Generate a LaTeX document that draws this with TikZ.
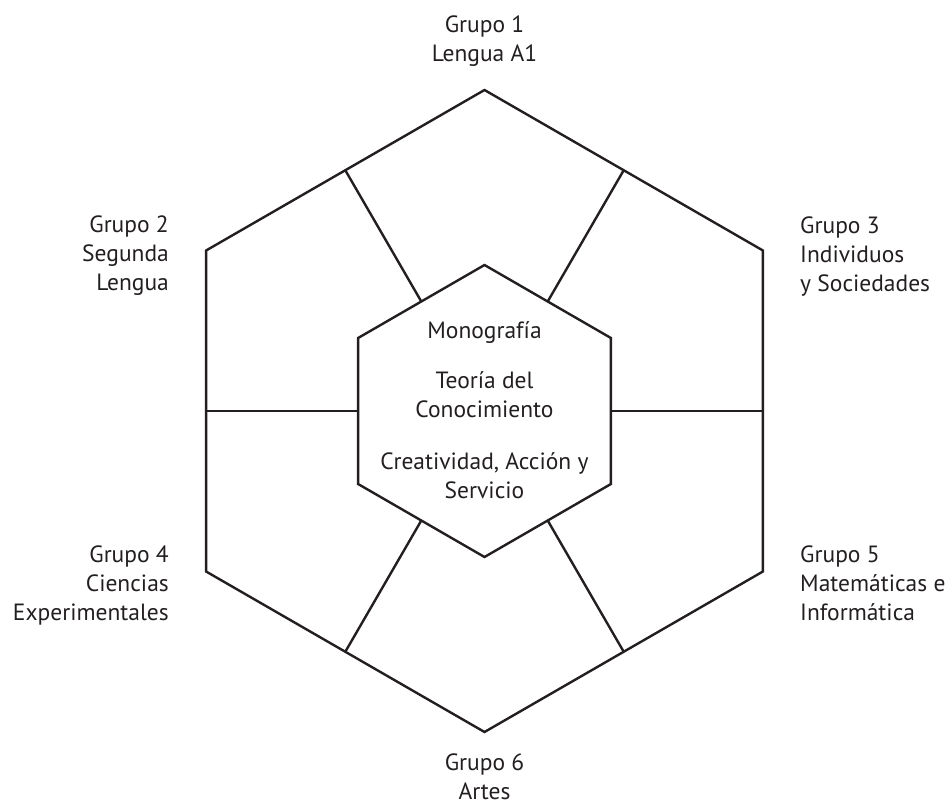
\documentclass[tikz,border=0pt]{standalone}
\usepackage{fontspec}
\setmainfont{PT Sans}
\usetikzlibrary{calc}
\definecolor{ink}{HTML}{231F20}
\begin{document}
\begin{tikzpicture}[x=1pt,y=-1pt,
  hexline/.style={draw=ink,line width=2.4pt,line join=miter},
  spoke/.style={draw=ink,line width=2.4pt},
  lbl/.style={text=ink,inner sep=0pt,font=\fontsize{23.5}{29}\selectfont},
]
\useasboundingbox (0,0) rectangle (952,805);
% outer hexagon vertices
\coordinate (o1) at (484.5,90);
\coordinate (o2) at (206.1,250.5);
\coordinate (o3) at (206.1,571.5);
\coordinate (o4) at (484.5,732);
\coordinate (o5) at (762.9,571.5);
\coordinate (o6) at (762.9,250.5);
% inner hexagon vertices
\coordinate (i1) at (484.5,265);
\coordinate (i2) at (358.1,338);
\coordinate (i3) at (358.1,484);
\coordinate (i4) at (484.5,557);
\coordinate (i5) at (610.9,484);
\coordinate (i6) at (610.9,338);
\draw[hexline] (o1) -- (o2) -- (o3) -- (o4) -- (o5) -- (o6) -- cycle;
\draw[hexline] (i1) -- (i2) -- (i3) -- (i4) -- (i5) -- (i6) -- cycle;
% spokes
\draw[spoke] ($(o1)!0.5!(o2)$) -- ($(i1)!0.5!(i2)$);
\draw[spoke] ($(o2)!0.5!(o3)$) -- ($(i2)!0.5!(i3)$);
\draw[spoke] ($(o3)!0.5!(o4)$) -- ($(i3)!0.5!(i4)$);
\draw[spoke] ($(o4)!0.5!(o5)$) -- ($(i4)!0.5!(i5)$);
\draw[spoke] ($(o5)!0.5!(o6)$) -- ($(i5)!0.5!(i6)$);
\draw[spoke] ($(o6)!0.5!(o1)$) -- ($(i6)!0.5!(i1)$);
% labels (base anchor = baseline of the last line)
\node[lbl,anchor=base,align=center] (g1) at (484.5,62) {Grupo 1\\Lengua A1};
\node[lbl,anchor=base east,align=right] (g2) at (169,290) {Grupo 2\\Segunda\\Lengua};
\node[lbl,anchor=base west,align=left] (g3) at (800,291) {Grupo 3\\Individuos\\y Sociedades};
\node[lbl,anchor=base east,align=right] (g4) at (169,620) {Grupo 4\\Ciencias\\Experimentales};
\node[lbl,anchor=base west,align=left] (g5) at (800,620) {Grupo 5\\Matemáticas e\\Informática};
\node[lbl,anchor=base,align=center] (g6) at (484.5,799) {Grupo 6\\Artes};
\node[lbl,anchor=base] (mono) at (484.5,338) {Monografía};
\node[lbl,anchor=base,align=center] (tok) at (484.5,417) {Teoría del\\Conocimiento};
\node[lbl,anchor=base,align=center] (cas) at (484.5,498) {Creatividad, Acción y\\Servicio};
\end{tikzpicture}
\end{document}
